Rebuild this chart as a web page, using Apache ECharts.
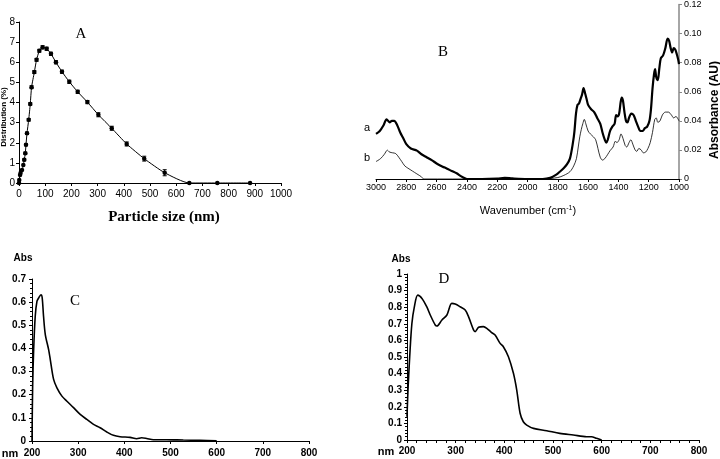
<!DOCTYPE html>
<html>
<head>
<meta charset="utf-8">
<script src="https://cdn.jsdelivr.net/npm/echarts@6/dist/echarts.min.js"></script>
<style>html,body{margin:0;padding:0;background:#fff}#c{width:720px;height:459px}</style>
</head>
<body>
<div id="c"></div>
<script>
// ---- Panel A: particle size distribution ----
const aSize = [0,1,4,6,11.5,16.5,20,24,26.7,30.5,37,43,48,58.5,67,77.6,90,105.6,122,141,164,192,224,261,303,354,411,478,556,650,757,882];
const aDist = [0,0.15,0.4,0.5,0.65,0.9,1.15,1.48,1.9,2.47,3.14,3.93,4.76,5.51,6.12,6.57,6.74,6.67,6.42,6.0,5.53,5.03,4.53,4.02,3.39,2.72,1.94,1.21,0.51,0,0,0];
const aErr  = [0,0,0,0,0,0,0.05,0.05,0.05,0.06,0.06,0.06,0.07,0.07,0.07,0.07,0.08,0.08,0.08,0.08,0.08,0.08,0.08,0.08,0.1,0.1,0.1,0.12,0.15,0,0,0];

// ---- Panel B: FTIR spectra ----
const bWaveA = [3000,2975,2950,2930,2910,2895,2880,2860,2840,2820,2800,2770,2730,2700,2666,2630,2600,2560,2534,2500,2468,2440,2410,2400,2300,2200,2150,2100,2000,1900,1850,1810,1787,1760,1740,1720,1700,1690,1680,1670,1660,1650,1640,1630,1620,1610,1600,1580,1560,1540,1520,1505,1490,1480,1470,1455,1440,1425,1415,1405,1395,1385,1378,1370,1360,1350,1340,1330,1315,1300,1285,1270,1255,1240,1225,1210,1195,1185,1175,1165,1158,1150,1140,1130,1120,1105,1090,1075,1065,1055,1045,1035,1025,1015,1005,1000];
const bAbsA  = [0.031,0.033,0.037,0.041,0.039,0.040,0.040,0.037,0.032,0.028,0.024,0.021,0.0195,0.017,0.015,0.0128,0.0107,0.0085,0.0073,0.0055,0.0039,0.002,0.0003,0,0,0.0003,0.0008,0.0004,0,0,0.0008,0.003,0.005,0.0075,0.010,0.014,0.025,0.033,0.045,0.051,0.052,0.055,0.058,0.0625,0.059,0.055,0.051,0.048,0.046,0.042,0.038,0.032,0.027,0.025,0.027,0.033,0.036,0.038,0.044,0.043,0.045,0.053,0.056,0.054,0.046,0.040,0.039,0.042,0.045,0.044,0.040,0.036,0.033,0.033,0.035,0.036,0.040,0.048,0.062,0.072,0.0755,0.070,0.068,0.076,0.083,0.085,0.090,0.0965,0.095,0.090,0.087,0.090,0.089,0.086,0.082,0.079];
const bWaveB = [3000,2970,2945,2925,2910,2890,2870,2850,2830,2810,2790,2760,2730,2700,2685,1900,1800,1760,1720,1695,1677,1665,1655,1645,1635,1625,1615,1600,1585,1565,1550,1535,1520,1505,1490,1470,1455,1435,1420,1410,1395,1383,1370,1355,1345,1330,1318,1305,1290,1279,1265,1250,1235,1220,1205,1190,1175,1160,1150,1140,1125,1110,1090,1070,1050,1035,1020,1005,1000];
const bAbsB  = [0.012,0.014,0.017,0.0198,0.0185,0.018,0.0175,0.015,0.012,0.009,0.0075,0.0055,0.0035,0.0015,0,0,0.001,0.0025,0.005,0.009,0.014,0.022,0.029,0.034,0.038,0.041,0.038,0.033,0.031,0.029,0.027,0.021,0.015,0.013,0.014,0.017,0.0195,0.022,0.026,0.025,0.027,0.031,0.028,0.023,0.022,0.025,0.027,0.024,0.020,0.019,0.021,0.020,0.018,0.0185,0.021,0.025,0.032,0.041,0.042,0.039,0.040,0.044,0.046,0.046,0.044,0.042,0.043,0.041,0.040];

// ---- Panel C: UV-Vis ----
const cNm  = [200,201.4,203.6,207,210.8,214.4,219.4,222,225,228.8,236,239.6,246.8,254,264.8,275.6,290,304.4,318.8,333.2,347.6,362,376.4,390.8,412.4,426.8,437.6,448.4,462.8,491.7,527.7,563.7,600];
const cAbs = [0,0.237,0.395,0.539,0.604,0.618,0.632,0.62,0.539,0.46,0.395,0.352,0.266,0.23,0.194,0.172,0.144,0.115,0.093,0.072,0.0575,0.039,0.0244,0.0187,0.0158,0.010,0.014,0.011,0.0057,0.0057,0.004,0.003,0.0014];

// ---- Panel D: UV-Vis ----
const dNm  = [200,202,205.5,210,215,222,230.8,241,247.8,258,261.5,271.8,282,292,299,309,319.6,326.4,336.7,340,347,357,364,374,381,391.4,398,408.4,418.7,425.5,432.4,439,446,460,487,514,541.7,569,579,589.5,600];
const dAbs = [0.14,0.3,0.5,0.7,0.8,0.873,0.853,0.80,0.753,0.693,0.687,0.723,0.753,0.823,0.819,0.803,0.783,0.743,0.663,0.653,0.679,0.683,0.673,0.647,0.633,0.582,0.562,0.502,0.402,0.301,0.161,0.11,0.09,0.07,0.056,0.04,0.03,0.02,0.02,0.01,0];

const pair = (xs, ys) => xs.map((x, i) => [x, ys[i]]);
const SANS = 'Liberation Sans';

const fmt = (d) => (v) => v === 0 ? '0' : (Number.isInteger(v) ? String(v) : v.toFixed(d));
const plain = (v) => String(Math.round(v));

function lab(size, bold, margin, formatter) {
  return { fontFamily: SANS, fontSize: size, fontWeight: bold ? 'bold' : 'normal', color: '#000', margin: margin, formatter: formatter };
}
function ax(gi, min, max, itv, extra) {
  return Object.assign({
    type: 'value', gridIndex: gi, min: min, max: max, interval: itv,
    axisLine: { show: true, lineStyle: { color: '#000', width: 1 } },
    axisTick: { show: true, length: 3, lineStyle: { color: '#000' } },
    splitLine: { show: false }
  }, extra || {});
}

const errBar = function (params, api) {
  const x = api.value(0), y = api.value(1), e = api.value(2);
  if (!e) return null;
  const t = api.coord([x, y + e]), b = api.coord([x, y - e]);
  const hw = 2, st = { stroke: '#000', lineWidth: 1 };
  return { type: 'group', children: [
    { type: 'line', shape: { x1: t[0], y1: t[1], x2: b[0], y2: b[1] }, style: st },
    { type: 'line', shape: { x1: t[0] - hw, y1: t[1], x2: t[0] + hw, y2: t[1] }, style: st },
    { type: 'line', shape: { x1: b[0] - hw, y1: b[1], x2: b[0] + hw, y2: b[1] }, style: st }
  ] };
};

const chart = echarts.init(document.getElementById('c'), null, { renderer: 'canvas' });
chart.setOption({
  animation: false,
  backgroundColor: '#fff',
  grid: [
    { left: 19, top: 22, width: 262, height: 161 },
    { left: 376, top: 3, width: 303, height: 176 },
    { left: 32, top: 279, width: 277, height: 162 },
    { left: 407, top: 274, width: 292, height: 166 }
  ],
  xAxis: [
    ax(0, 0, 1000, 100, { axisLabel: lab(10, false, 6, plain) }),
    ax(1, 1000, 3000, 200, { inverse: true, axisLabel: lab(9, false, 4, plain) }),
    ax(2, 200, 800, 100, { axisLabel: lab(10, true, 7, plain) }),
    ax(3, 200, 800, 100, { minorTick: { show: true, splitNumber: 5, length: 3, lineStyle: { color: '#000' } }, axisLabel: lab(10, true, 6, plain) })
  ],
  yAxis: [
    ax(0, 0, 8, 1, { axisLabel: lab(10, false, 4, plain) }),
    ax(1, 0, 0.12, 0.02, {
      position: 'right',
      axisLine: { show: true, lineStyle: { color: '#888', width: 1.5 } },
      axisTick: { show: true, length: 3, lineStyle: { color: '#888' } },
      axisLabel: lab(9, false, 5, fmt(2))
    }),
    ax(2, 0, 0.7, 0.1, {
      minorTick: { show: true, splitNumber: 5, length: 2, lineStyle: { color: '#000' } },
      axisLabel: lab(10, true, 6, fmt(1))
    }),
    ax(3, 0, 1, 0.1, {
      minorTick: { show: true, splitNumber: 5, length: 2, lineStyle: { color: '#000' } },
      axisLabel: lab(10, true, 5, fmt(1))
    })
  ],
  series: [
    { type: 'line', xAxisIndex: 0, yAxisIndex: 0, data: pair(aSize, aDist), smooth: 0.2,
      symbol: 'circle', symbolSize: 4.5, itemStyle: { color: '#000' }, lineStyle: { color: '#000', width: 1 } },
    { type: 'custom', xAxisIndex: 0, yAxisIndex: 0, data: aSize.map((x, i) => [x, aDist[i], aErr[i]]),
      renderItem: errBar, encode: { x: 0, y: 1 }, z: 3 },
    { type: 'line', xAxisIndex: 1, yAxisIndex: 1, data: pair(bWaveA, bAbsA), smooth: 0.3,
      symbol: 'none', lineStyle: { color: '#000', width: 2.2 } },
    { type: 'line', xAxisIndex: 1, yAxisIndex: 1, data: pair(bWaveB, bAbsB), smooth: 0.3,
      symbol: 'none', lineStyle: { color: '#000', width: 0.8 } },
    { type: 'line', xAxisIndex: 2, yAxisIndex: 2, data: pair(cNm, cAbs), smooth: 0.3,
      symbol: 'none', lineStyle: { color: '#000', width: 1.6 } },
    { type: 'line', xAxisIndex: 3, yAxisIndex: 3, data: pair(dNm, dAbs), smooth: 0.3,
      symbol: 'none', lineStyle: { color: '#000', width: 1.6 } }
  ],
  graphic: [
    { type: 'text', x: 4, y: 117, rotation: Math.PI / 2, style: { text: 'Distribution (%)', font: 'bold 8px "Liberation Sans"', fill: '#000', align: 'center', verticalAlign: 'middle' } },
    { type: 'text', x: 164, y: 217, style: { text: 'Particle size (nm)', font: 'bold 15px "Liberation Serif"', fill: '#000', align: 'center', verticalAlign: 'middle' } },
    { type: 'text', x: 81, y: 34, style: { text: 'A', font: '15px "Liberation Serif"', fill: '#000', align: 'center', verticalAlign: 'middle' } },
    { type: 'text', x: 443, y: 52, style: { text: 'B', font: '15px "Liberation Serif"', fill: '#000', align: 'center', verticalAlign: 'middle' } },
    { type: 'text', x: 367, y: 128, style: { text: 'a', font: '11px "Liberation Sans"', fill: '#000', align: 'center', verticalAlign: 'middle' } },
    { type: 'text', x: 367, y: 158, style: { text: 'b', font: '11px "Liberation Sans"', fill: '#000', align: 'center', verticalAlign: 'middle' } },
    { type: 'text', x: 528, y: 211, style: { rich: { n: { fontFamily: SANS, fontSize: 11, fill: '#000' }, s: { fontFamily: SANS, fontSize: 7, fill: '#000', verticalAlign: 'top', padding: [0, 0, 5, 0] } }, text: '{n|Wavenumber (cm}{s|-1}{n|)}', align: 'center', verticalAlign: 'middle' } },
    { type: 'text', x: 715, y: 110, rotation: Math.PI / 2, style: { text: 'Absorbance (AU)', font: 'bold 12px "Liberation Sans"', fill: '#000', align: 'center', verticalAlign: 'middle' } },
    { type: 'text', x: 23, y: 258, style: { text: 'Abs', font: 'bold 10px "Liberation Sans"', fill: '#000', align: 'center', verticalAlign: 'middle' } },
    { type: 'text', x: 10, y: 454, style: { text: 'nm', font: 'bold 11px "Liberation Sans"', fill: '#000', align: 'center', verticalAlign: 'middle' } },
    { type: 'text', x: 75, y: 301, style: { text: 'C', font: '15px "Liberation Serif"', fill: '#000', align: 'center', verticalAlign: 'middle' } },
    { type: 'text', x: 401, y: 259, style: { text: 'Abs', font: 'bold 10px "Liberation Sans"', fill: '#000', align: 'center', verticalAlign: 'middle' } },
    { type: 'text', x: 386, y: 452, style: { text: 'nm', font: 'bold 11px "Liberation Sans"', fill: '#000', align: 'center', verticalAlign: 'middle' } },
    { type: 'text', x: 444, y: 279, style: { text: 'D', font: '15px "Liberation Serif"', fill: '#000', align: 'center', verticalAlign: 'middle' } }
  ]
});
</script>
</body>
</html>
